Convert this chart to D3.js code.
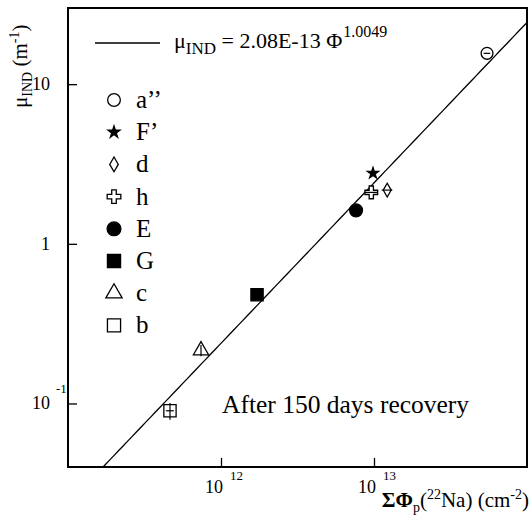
<!DOCTYPE html>
<html><head><meta charset="utf-8">
<script src="https://cdn.jsdelivr.net/npm/d3@7/dist/d3.min.js"></script>
</head><body style="margin:0"><svg id="c" width="532" height="525"></svg>
<script>
// data
const labels   = ["a’’", "F’", "d", "h", "E", "G", "c", "b"];
const symbols  = ["circleOpen", "star", "diamondOpen", "crossOpen", "circle", "square", "triangleOpen", "squareOpen"];
const fluence  = [5.48e13, 9.85e12, 1.22e13, 9.6e12, 7.63e12, 1.72e12, 7.4e11, 4.64e11];
const mu       = [15.6, 2.77, 2.17, 2.1, 1.62, 0.48, 0.215, 0.090];
const xErrFrac = [0.05, 0, 0.08, 0.10, 0, 0.08, 0, 0.06];
const yErrFrac = [0, 0, 0, 0, 0, 0, 0.08, 0.12];
const fitA = 2.08e-13, fitB = 1.0049;
const xDomain = [1e11, 1e14];
const yDomain = [0.04, 30];
const xMajor = [1e12, 1e13];
const xMajorExp = ["12", "13"];
const yMajor = [0.1, 1, 10];
const yMajorText = [["10", "-1"], ["1", ""], ["10", ""]];

const FONT = '"Liberation Serif", Tinos, "Times New Roman"';
const svg = d3.select("#c").attr("font-family", FONT).style("font-family", FONT);
const L = 68, R = 527, T = 8, B = 467;
const x = d3.scaleLog().domain(xDomain).range([L, R]);
const y = d3.scaleLog().domain(yDomain).range([B, T]);
function txt(g) { return g.append("text").style("font-family", FONT).attr("font-family", FONT); }

function minorTicks(dom) {
  const out = [];
  for (let e = Math.floor(Math.log10(dom[0])); e <= Math.ceil(Math.log10(dom[1])); e++)
    for (let m = 2; m <= 9; m++) { const v = m * Math.pow(10, e); if (v > dom[0] && v < dom[1]) out.push(v); }
  return out;
}

// fit line (clipped)
svg.append("defs").append("clipPath").attr("id", "clip").append("rect")
  .attr("x", L).attr("y", T).attr("width", R - L).attr("height", B - T);
const fitX = d3.range(0, 101).map(i => Math.pow(10, 11 + 3 * i / 100));
svg.append("path").datum(fitX).attr("clip-path", "url(#clip)")
  .attr("fill", "none").attr("stroke", "#000").attr("stroke-width", 1.3)
  .attr("d", d3.line().x(d => x(d)).y(d => y(fitA * Math.pow(d, fitB))));

// axes: inward ticks
const gx = svg.append("g").attr("transform", `translate(0,${B})`);
gx.call(d3.axisTop(x).tickValues(minorTicks(xDomain)).tickSize(5).tickFormat(""));
gx.call(d3.axisTop(x).tickValues(xMajor).tickSize(9).tickFormat(""));
const gy = svg.append("g").attr("transform", `translate(${L},0)`);
gy.call(d3.axisRight(y).tickValues(minorTicks(yDomain)).tickSize(5).tickFormat(""));
gy.call(d3.axisRight(y).tickValues(yMajor).tickSize(9).tickFormat(""));
svg.selectAll(".domain").remove();
svg.selectAll(".tick line").attr("stroke", "#000").attr("stroke-width", 1.3);
svg.selectAll(".tick text").remove();

// frame
svg.append("path").attr("fill", "none").attr("stroke", "#000").attr("stroke-width", 2)
  .attr("d", `M${L},${T}H${R}V${B}H${L}Z`);

// tick labels
xMajor.forEach((v, i) => {
  txt(svg).attr("x", x(v) + 2).attr("y", 493).attr("text-anchor", "end").attr("font-size", 18).text("10");
  txt(svg).attr("x", x(v) + 9).attr("y", 480).attr("font-size", 13).text(xMajorExp[i]);
});
yMajor.forEach((v, i) => {
  txt(svg).attr("x", 50).attr("y", y(v) + 6).attr("text-anchor", "end").attr("font-size", 18).text(yMajorText[i][0]);
  if (yMajorText[i][1]) txt(svg).attr("x", 56).attr("y", y(v) - 10).attr("font-size", 13).text(yMajorText[i][1]);
});

// axis titles
const xt = txt(svg).attr("x", 529).attr("y", 507).attr("text-anchor", "end").attr("font-size", 21);
xt.append("tspan").attr("font-weight", "bold").text("ΣΦ");
xt.append("tspan").attr("font-size", 14).attr("dy", 5).text("p");
xt.append("tspan").text("(").attr("dy", -5);
xt.append("tspan").attr("font-size", 14).attr("dy", -8).text("22");
xt.append("tspan").attr("dy", 8).text("Na) (cm");
xt.append("tspan").attr("font-size", 14).attr("dy", -8).text("-2");
xt.append("tspan").attr("dy", 8).text(")");

const yt = txt(svg).attr("transform", "translate(27,108) rotate(-90)").attr("font-size", 21);
yt.append("tspan").text("μ");
yt.append("tspan").attr("font-size", 14).attr("dy", 5).text("IND");
yt.append("tspan").attr("dy", -5).text(" (m");
yt.append("tspan").attr("font-size", 14).attr("dy", -8).text("-1");
yt.append("tspan").attr("dy", 8).text(")");

// symbol helper
function drawSym(g, type, cx, cy, scale) {
  const open = /Open$/.test(type);
  const base = type.replace("Open", "");
  const map = { circle: d3.symbolCircle, star: d3.symbolStar, diamond: d3.symbolDiamond,
    cross: d3.symbolCross, square: d3.symbolSquare, triangle: d3.symbolTriangle };
  const sizes = { circle: open ? 110 : 130, star: 38, diamond: 55, cross: 90, square: 150, triangle: 100 };
  g.append("path").attr("transform", `translate(${cx},${cy})`)
    .attr("d", d3.symbol().type(map[base]).size(sizes[base] * scale)())
    .attr("fill", open ? "#fff" : "#000").attr("stroke", "#000").attr("stroke-width", 1.3);
}

// data points
const gp = svg.append("g");
fluence.forEach((f, i) => {
  drawSym(gp, symbols[i], x(f), y(mu[i]), 1);
  if (xErrFrac[i]) gp.append("line").attr("x1", x(f * (1 - xErrFrac[i]))).attr("x2", x(f * (1 + xErrFrac[i])))
    .attr("y1", y(mu[i])).attr("y2", y(mu[i])).attr("stroke", "#000").attr("stroke-width", 1.2);
  if (yErrFrac[i]) gp.append("line").attr("y1", y(mu[i] * (1 - yErrFrac[i]))).attr("y2", y(mu[i] * (1 + yErrFrac[i])))
    .attr("x1", x(f)).attr("x2", x(f)).attr("stroke", "#000").attr("stroke-width", 1.2);
});

// legend
svg.append("line").attr("x1", 95).attr("x2", 160).attr("y1", 43).attr("y2", 43)
  .attr("stroke", "#000").attr("stroke-width", 1.3);
const lt = txt(svg).attr("x", 174).attr("y", 48).attr("font-size", 22);
lt.append("tspan").text("μ");
lt.append("tspan").attr("font-size", 17).attr("dy", 6).text("IND");
lt.append("tspan").attr("dy", -6).text(" = 2.08E-13 Φ");
lt.append("tspan").attr("font-size", 16).attr("dy", -11).attr("dx", 1).text("1.0049");

labels.forEach((lab, i) => {
  const cy = 100 + i * 32.2;
  drawSym(svg, symbols[i], 114, cy, 1.15);
  txt(svg).attr("x", 136).attr("y", cy + 8).attr("font-size", 25).text(lab);
});

txt(svg).attr("x", 222).attr("y", 413).attr("font-size", 25.5).text("After 150 days recovery");
</script></body></html>
